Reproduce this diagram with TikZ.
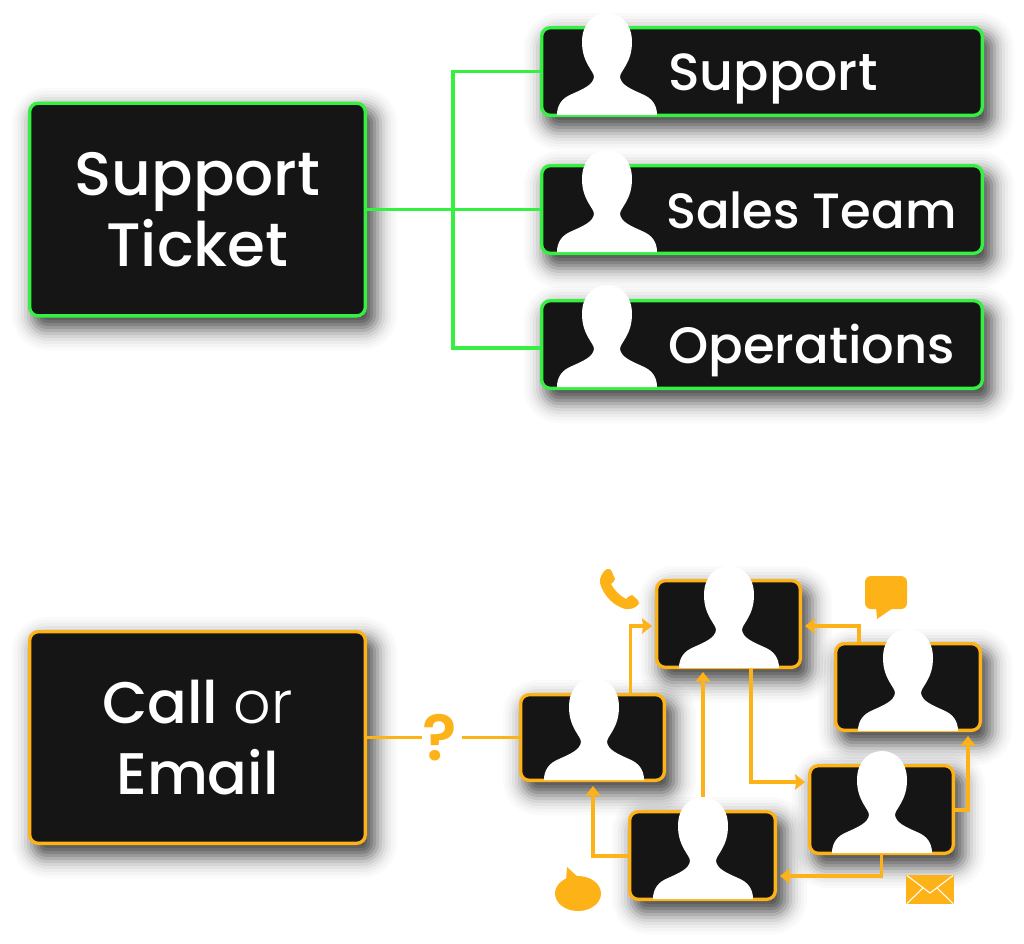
\documentclass[tikz,border=0pt]{standalone}
\usepackage{fontspec}
\setmainfont{Poppins}[UprightFont=* Medium]
\newfontfamily\thinface{Poppins}[UprightFont=* Light]
\newfontfamily\markface{Poppins}[UprightFont=* SemiBold]
\usetikzlibrary{arrows.meta,calc}
\definecolor{tilefill}{HTML}{151515}
\definecolor{signalgreen}{HTML}{35F040}
\definecolor{amberline}{HTML}{FDB218}
\newcommand{\softshadow}[4]{%
  \foreach \e/\op in {23/.02,20/.02,17/.03,14/.04,11/.055,8/.08,5/.1,2/.12,-1/.14,-4/.15,-7/.15,-10/.15}{
    \pgfmathsetmacro{\rad}{max(12+\e,2)}
    \fill[black,fill opacity=\op,rounded corners=\rad*0.75pt]
      ({#1+7-\e},{#2+10-\e}) rectangle ({#3+7+\e},{#4+10+\e});
  }%
}
\tikzset{
  x=0.75pt,y=-0.75pt,
  tile/.style n args={3}{draw=#3,line width=2.5pt,fill=tilefill,rounded corners=6.5pt,
    minimum width={(#1)*0.75pt-2.5pt},minimum height={(#2)*0.75pt-2.5pt},
    inner sep=0pt,text=white,align=center},
  sidelabel/.style={text=white,anchor=base west,inner sep=0pt},
  greenlink/.style={draw=signalgreen,line width=2.5pt},
  amberlink/.style={draw=amberline,line width=2.5pt},
  amberarrow/.style={amberlink,-{Stealth[length=7.5pt,width=11.5pt,inset=1pt]}},
  person/.pic={
    \fill[white] (-50,0) .. controls (-50,-10) and (-45,-17) .. (-35,-21)
      .. controls (-24,-26) and (-14,-30) .. (-13,-38)
      .. controls (-13,-44) and (-25,-52) .. (-25,-73)
      .. controls (-25,-91) and (-14,-102) .. (0,-102)
      .. controls (14,-102) and (25,-91) .. (25,-73)
      .. controls (25,-52) and (13,-44) .. (13,-38)
      .. controls (14,-30) and (24,-26) .. (35,-21)
      .. controls (45,-17) and (50,-10) .. (50,0) -- cycle;
  }
}
\begin{document}
\begin{tikzpicture}
\useasboundingbox (0,0) rectangle (1024,943);
\fill[white] (0,0) rectangle (1024,943);

% soft drop shadows under every tile
\softshadow{28}{101}{367}{317}
\softshadow{540}{26}{984}{117}
\softshadow{540}{164}{984}{255}
\softshadow{540}{299}{984}{390}
\softshadow{28}{630}{367}{845}
\softshadow{519}{693}{666}{782}
\softshadow{655}{579}{802}{669}
\softshadow{834}{642}{982}{732}
\softshadow{808}{764}{955}{855}
\softshadow{628}{810}{777}{901}

% ticket routing tiles
\node[tile={339}{216}{signalgreen},font=\fontsize{46}{53.5}\selectfont] (ticket) at (197.5,209.5) {Support\\Ticket};
\node[tile={444}{91}{signalgreen}] (support) at (762,71.5) {};
\node[tile={444}{91}{signalgreen}] (sales) at (762,209.5) {};
\node[tile={444}{91}{signalgreen}] (operations) at (762,344.5) {};
\coordinate (fork) at (453,209.5);
\coordinate (opsentry) at ($(operations.west)+(0,3.5)$);
\draw[greenlink] (ticket.east |- fork) -- (sales.west);
\draw[greenlink] (support.west) -| (fork) |- (opsentry);
\pic at (607,115) {person};
\pic at (607,252) {person};
\pic at (607,387) {person};
\node[sidelabel,font=\fontsize{39.2}{44}\selectfont] (supportlabel) at (668,90) {Support};
\node[sidelabel,font=\fontsize{37.2}{44}\selectfont] (saleslabel) at (666,228) {Sales Team};
\node[sidelabel,font=\fontsize{38.4}{44}\selectfont] (operationslabel) at (668,363) {Operations};

% call and email tiles
\node[tile={339}{215}{amberline},font=\fontsize{44}{53}\selectfont] (call) at (197.5,737.5) {Call {\thinface or}\\Email};
\node[tile={147}{89}{amberline}] (first) at (592.5,737.5) {};
\node[tile={147}{90}{amberline}] (second) at (728.5,624) {};
\node[tile={148}{90}{amberline}] (third) at (908,687) {};
\node[tile={147}{91}{amberline}] (fourth) at (881.5,809.5) {};
\node[tile={149}{91}{amberline}] (fifth) at (702.5,855.5) {};

\node[text=amberline,inner sep=0pt,font=\markface\fontsize{48}{48}\selectfont] (query) at (440,738) {?};
\draw[amberlink] (call.east |- first.west) -- ($(query.west |- first.west)+(-1,0)$);
\draw[amberlink] ($(query.east |- first.west)+(5,0)$) -- (first.west);

\coordinate (topfirst) at ($(first.north)+(38,0)$);
\coordinate (intosecond) at ($(second.west)+(-3,2)$);
\draw[amberarrow] (topfirst) |- (intosecond);
\coordinate (fromfifth) at (703,800);
\draw[amberarrow] (fromfifth) -- ($(second.south)+(-25.5,3)$);
\coordinate (belowsecond) at ($(second.south)+(22.5,0)$);
\draw[amberarrow] (belowsecond) |- ($(fourth.west)+(-3,-27.5)$);
\coordinate (topthird) at ($(third.north)+(-49,0)$);
\draw[amberarrow] (topthird) |- ($(second.east)+(3,2)$);
\coordinate (sidefourth) at ($(fourth.east)+(0,0.5)$);
\draw[amberarrow] (sidefourth) -| ($(third.south)+(60,4)$);
\draw[amberarrow] (fourth.south) |- ($(fifth.east)+(3,20.5)$);
\coordinate (sidefifth) at ($(fifth.west)+(0,0.5)$);
\draw[amberarrow] (sidefifth) -| ($(first.south)+(0.5,4)$);

\pic at (594,780) {person};
\pic at (729,668) {person};
\pic at (908,731) {person};
\pic at (882,853) {person};
\pic at (703,899) {person};

% handset
\fill[amberline] (600,583) .. controls (599,578) and (603,571) .. (607,569)
  .. controls (610,568) and (611,570) .. (612,572) -- (615,579)
  .. controls (615,582) and (612,582) .. (611,584)
  .. controls (614,590) and (620,596) .. (626,599)
  .. controls (628,598) and (629,595) .. (632,595) -- (638,600)
  .. controls (640,602) and (639,605) .. (637,606)
  .. controls (632,610) and (625,610) .. (620,607)
  .. controls (611,603) and (603,594) .. (600,583) -- cycle;
% speech bubble, upper right
\fill[amberline,rounded corners=4.5pt] (865,576) rectangle (907,609);
\fill[amberline] (876,607) -- (877,619) -- (893,608) -- cycle;
% speech bubble, lower left
\fill[amberline] (578,893.5) ellipse [x radius=23,y radius=17.5];
\fill[amberline,line join=round] (566,881) -- (567,867) -- (579,878) -- cycle;
% envelope
\fill[amberline] (906,875) rectangle (954,904);
\draw[white,line width=0.8pt] (907,875.5) -- (930,893) -- (953,875.5)
  (907,903.5) -- (923,888) (953,903.5) -- (937,888);
\end{tikzpicture}
\end{document}
